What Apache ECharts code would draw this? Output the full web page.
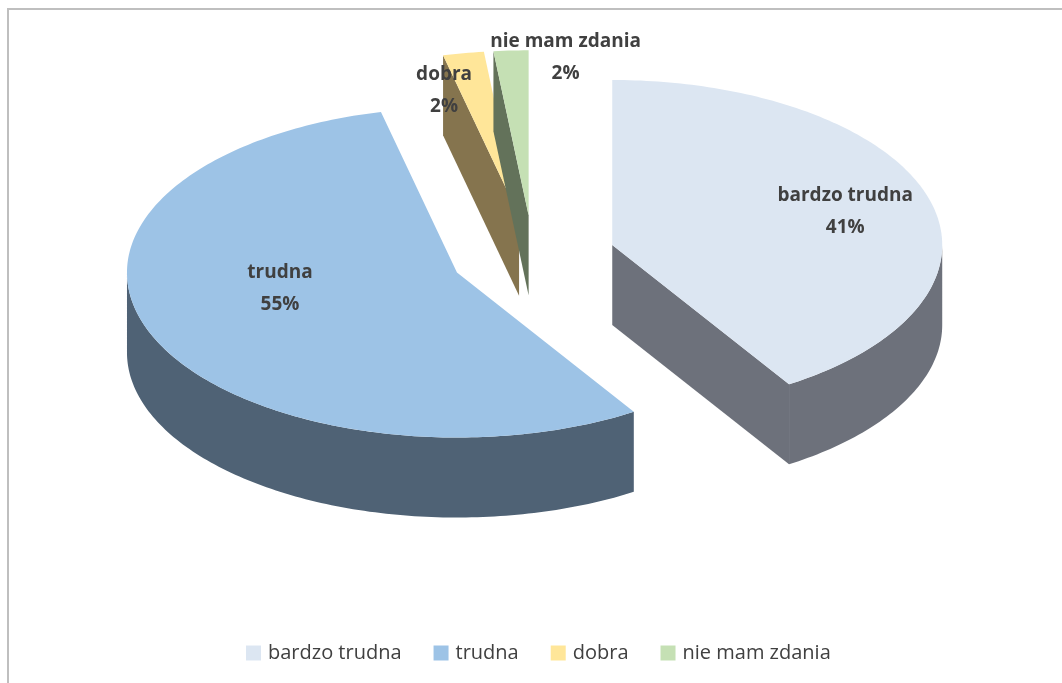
<!DOCTYPE html>
<html><head><meta charset="utf-8">
<script src="https://cdn.jsdelivr.net/npm/echarts@6/dist/echarts.min.js"></script>
<style>html,body{margin:0;padding:0;background:#fff}#main{width:1062px;height:683px}</style>
</head><body><div id="main"></div>
<script>
// ---- data ----
const categories = ['bardzo trudna', 'trudna', 'dobra', 'nie mam zdania'];
const values = [41.0, 55.3, 2.0, 1.7];

// ---- styles ----
const topColors = ['#DCE6F2', '#9DC3E6', '#FFE699', '#C5E0B4'];
const sideColors = ['#6D717B', '#4F6275', '#85744E', '#63725A'];
const labelOffsets = [[233, -33], [-177, 16], [-75, -125], [37, -158]];
const FONT = '"Open Sans", "Noto Sans", sans-serif';
const PIE = { cx: 533, cy: 256.5, rx: 330, ry: 165, depth: 80, explode: 0.25 };

const total = values.reduce((a, b) => a + b, 0);
const starts = [];
{ let acc = 0; values.forEach(v => { starts.push(acc / total * 360); acc += v; }); }

function rim(c, deg, dz) {
  const r = deg * Math.PI / 180;
  return [c[0] + PIE.rx * Math.sin(r), c[1] - PIE.ry * Math.cos(r) + dz];
}
function arc(c, a, b, dz) {
  const n = Math.max(2, Math.ceil(Math.abs(b - a)));
  const pts = [];
  for (let k = 0; k <= n; k++) pts.push(rim(c, a + (b - a) * k / n, dz));
  return pts;
}

function makeRender(i) {
  return function (params, api) {
    const v = api.value(0);
    const a1 = starts[i];
    const a2 = a1 + v / total * 360;
    const mid = (a1 + a2) / 2 * Math.PI / 180;
    const c = [PIE.cx + PIE.explode * PIE.rx * Math.sin(mid),
               PIE.cy - PIE.explode * PIE.ry * Math.cos(mid)];
    const d = PIE.depth;
    const children = [];
    const side = { fill: sideColors[i] };
    // outer curved wall (front half only)
    const w1 = Math.max(a1, 90), w2 = Math.min(a2, 270);
    if (w1 < w2) {
      const pts = arc(c, w1, w2, 0).concat(arc(c, w1, w2, d).reverse());
      children.push({ type: 'polygon', shape: { points: pts }, style: side, silent: true });
    }
    // radial walls
    const sa = Math.sin(a1 * Math.PI / 180), sb = Math.sin(a2 * Math.PI / 180);
    if (sa < -1e-6) {
      const p = rim(c, a1, 0);
      children.push({ type: 'polygon', shape: { points: [c, p, [p[0], p[1] + d], [c[0], c[1] + d]] }, style: side, silent: true });
    }
    if (sb > 1e-6) {
      const p = rim(c, a2, 0);
      children.push({ type: 'polygon', shape: { points: [c, p, [p[0], p[1] + d], [c[0], c[1] + d]] }, style: side, silent: true });
    }
    // top face
    children.push({ type: 'polygon', shape: { points: [c].concat(arc(c, a1, a2, 0)) },
      style: { fill: topColors[i] }, silent: true });
    // label
    const pct = Math.round(v / total * 100);
    children.push({
      type: 'text', silent: true, z2: 100,
      x: c[0] + labelOffsets[i][0], y: c[1] + labelOffsets[i][1],
      style: {
        text: categories[i] + '\n' + pct + '%',
        fill: '#404040', font: 'bold 19px ' + FONT,
        align: 'center', verticalAlign: 'middle', lineHeight: 32
      }
    });
    return { type: 'group', children: children };
  };
}

const chart = echarts.init(document.getElementById('main'), null, { renderer: 'canvas' });
chart.setOption({
  animation: false,
  backgroundColor: '#fff',
  graphic: [{
    type: 'rect', silent: true, z: -10,
    shape: { x: 8, y: 9, width: 1200, height: 800 },
    style: { fill: 'none', stroke: '#BFBFBF', lineWidth: 2 }
  }],
  legend: {
    data: categories,
    left: 246, top: 643, padding: 0,
    icon: 'rect', itemWidth: 15, itemHeight: 15, itemGap: 32,
    textStyle: { fontFamily: FONT, fontSize: 20, color: '#404040', padding: [0, 0, 0, 2] }
  },
  series: categories.map((name, i) => ({
    type: 'custom', name: name, coordinateSystem: 'none',
    itemStyle: { color: topColors[i] },
    renderItem: makeRender(i),
    data: [[values[i]]]
  }))
});
</script></body></html>
